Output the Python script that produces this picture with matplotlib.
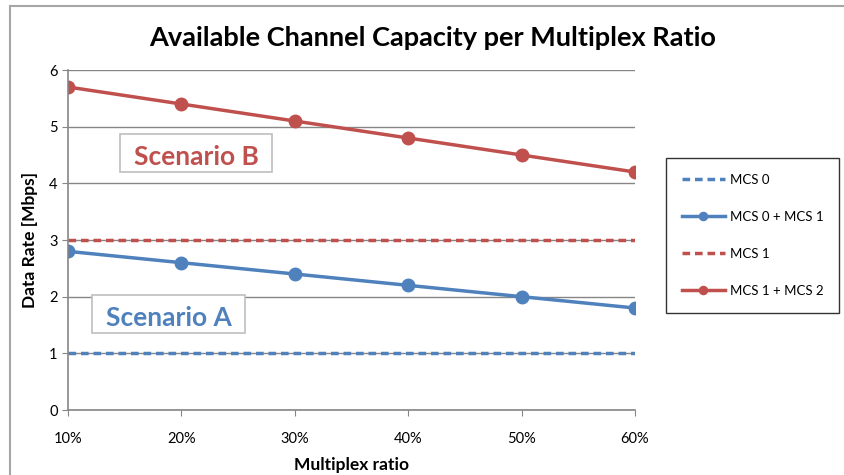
import matplotlib.pyplot as plt
from matplotlib.lines import Line2D
from matplotlib.patches import Rectangle

ratios = ["10%", "20%", "30%", "40%", "50%", "60%"]
mcs0 = [1.0, 1.0, 1.0, 1.0, 1.0, 1.0]
mcs0_mcs1 = [2.8, 2.6, 2.4, 2.2, 2.0, 1.8]
mcs1 = [3.0, 3.0, 3.0, 3.0, 3.0, 3.0]
mcs1_mcs2 = [5.7, 5.4, 5.1, 4.8, 4.5, 4.2]

BLUE = "#4F81BD"
RED = "#C0504D"
GRID = "#868686"

plt.rcParams["font.family"] = ["Lato", "DejaVu Sans"]

fig = plt.figure(figsize=(8.44, 4.75), dpi=100)
ax = fig.add_axes([0.0806, 0.1368, 0.6718, 0.7158])

x = list(range(len(ratios)))
ax.plot(x, mcs0, color=BLUE, lw=2.5, ls=(0, (2.2, 1.4)), label="MCS 0")
ax.plot(x, mcs0_mcs1, color=BLUE, lw=2.5, marker="o", ms=9, label="MCS 0 + MCS 1")
ax.plot(x, mcs1, color=RED, lw=2.5, ls=(0, (2.2, 1.4)), label="MCS 1")
ax.plot(x, mcs1_mcs2, color=RED, lw=2.5, marker="o", ms=9, label="MCS 1 + MCS 2")

ax.set_xlim(0, len(ratios) - 1)
ax.set_ylim(0, 6)
ax.set_yticks(range(0, 7))
ax.set_xticks(x, ratios)
ax.grid(axis="y", color=GRID, lw=1)
ax.set_axisbelow(True)
for side in ("top", "right"):
    ax.spines[side].set_visible(False)
for side in ("left", "bottom"):
    ax.spines[side].set_color(GRID)
    ax.spines[side].set_linewidth(1.2)
ax.tick_params(axis="both", colors=GRID, labelcolor="black", labelsize=10.5, length=4)
ax.tick_params(axis="x", pad=12)

ax.set_ylabel("Data Rate [Mbps]", fontsize=12.5, fontweight="bold", labelpad=8)
ax.set_xlabel("Multiplex ratio", fontsize=12.5, fontweight="bold", labelpad=8)
fig.text(0.512, 0.92, "Available Channel Capacity per Multiplex Ratio",
         ha="center", va="center", fontsize=19.5, fontweight="bold")

# scenario labels in bordered boxes
for (x0, x1, y0, y1), label, color in [
    ((0.459, 1.799, 4.2, 4.87), "Scenario B", RED),
    ((0.212, 1.561, 1.36, 2.03), "Scenario A", BLUE),
]:
    ax.add_patch(Rectangle((x0, y0), x1 - x0, y1 - y0, fc="white", ec="#BFBFBF",
                           lw=1.2, zorder=2.5))
    ax.text((x0 + x1) / 2, (y0 + y1) / 2 - 0.07, label, color=color, fontsize=19,
            fontweight="bold", ha="center", va="center", zorder=2.6)

leg = fig.legend(loc="center", bbox_to_anchor=(0.892, 0.505), frameon=True,
                 fancybox=False, edgecolor="black", fontsize=9.5,
                 labelspacing=1.9, borderpad=1.2, handlelength=3.2,
                 handletextpad=0.4, borderaxespad=0, markerscale=0.65)
leg.get_frame().set_linewidth(1.0)

# outer chart frame
fig.add_artist(Line2D([10 / 844, 1], [1 - 6 / 475, 1 - 6 / 475], color="#A6A6A6", lw=1.5,
                      transform=fig.transFigure))
fig.add_artist(Line2D([10 / 844, 10 / 844], [0, 1 - 6 / 475], color="#A6A6A6", lw=1.5,
                      transform=fig.transFigure))

fig.savefig("out.png", dpi=100)
